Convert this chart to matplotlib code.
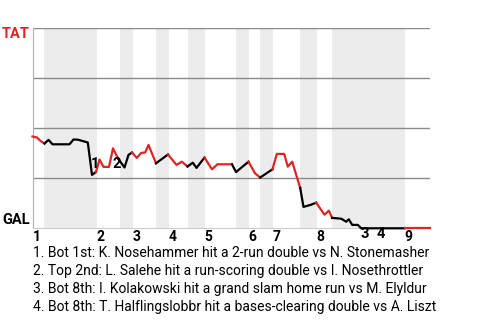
import matplotlib
matplotlib.use('Agg')
import matplotlib.pyplot as plt

plt.rcParams['font.family'] = ['Roboto', 'DejaVu Sans']

# position of each play along the game and TAT win probability after it
progress = [0, 4.5, 8, 12, 16, 20, 37, 41, 45.5, 55.3, 59.5, 63.5, 67, 71, 76.5, 80.5,
            85.5, 92, 96, 99.5, 104.3, 108.7, 112.7, 116, 123.5, 135.5, 144, 149.3, 155,
            160.3, 164, 172, 179.5, 185, 199.5, 203.5, 216, 222.5, 227.7, 240, 244.3,
            251.7, 255.3, 259.7, 267.7, 271, 278, 283.7, 292, 296.3, 299.7, 308.7, 313.7,
            316.3, 319.7, 325.3, 328.7, 344, 372, 397]
win_prob = [0.459, 0.454, 0.437, 0.424, 0.442, 0.420, 0.420, 0.444, 0.443, 0.429, 0.267,
            0.282, 0.344, 0.307, 0.307, 0.400, 0.349, 0.304, 0.367, 0.379, 0.352, 0.377,
            0.379, 0.417, 0.325, 0.369, 0.317, 0.333, 0.309, 0.328, 0.302, 0.354, 0.295,
            0.320, 0.320, 0.281, 0.333, 0.275, 0.254, 0.295, 0.372, 0.372, 0.308, 0.333,
            0.202, 0.107, 0.117, 0.128, 0.068, 0.088, 0.052, 0.048, 0.033, 0.045, 0.017,
            0.017, 0.0, 0.0, 0.0, 0.0]

# index of the last play of each half inning (top 1st, bot 1st, ...)
half_ends = [0, 3, 11, 16, 19, 24, 25, 28, 31, 34, 36, 38, 39, 44, 47, 50, 58, 59]

# shaded bottom halves
bottom_halves = [(11, 64), (87, 100), (123, 136), (155, 172), (203, 216),
                 (227, 240), (267, 284), (299, 372)]
inning_starts = [0, 64, 100, 136, 172, 216, 240, 284, 372]
inning_labels = ['1', '2', '3', '4', '5', '6', '7', '8', '9']

event_labels = ['1', '2', '3', '4']
event_x = [63, 84.5, 332.5, 348]
event_y = [0.324, 0.324, -0.026, -0.026]

notes = [
    '1. Bot 1st: K. Nosehammer hit a 2-run double vs N. Stonemasher',
    '2. Top 2nd: L. Salehe hit a run-scoring double vs I. Nosethrottler',
    '3. Bot 8th: I. Kolakowski hit a grand slam home run vs M. Elyldur',
    '4. Bot 8th: T. Halflingslobbr hit a bases-clearing double vs A. Liszt',
]

red = '#dc2626'

fig = plt.figure(figsize=(4.8, 3.2), dpi=100)
ax = fig.add_axes([32.5 / 480, 1 - 228.3 / 320, 397 / 480, 200 / 320])

for x0, x1 in bottom_halves:
    ax.axvspan(x0, x1, color='#ececec', lw=0, zorder=0)

for y in [0.25, 0.5, 0.75, 1.0]:
    ax.axhline(y, color='#8a8a8a', lw=1.0, zorder=1)

# one line per half inning, red when TAT bats, black when GAL bats
for i in range(len(half_ends) - 1):
    a, b = half_ends[i], half_ends[i + 1]
    col = red if i % 2 == 0 else 'black'
    ax.plot(progress[a:b + 1], win_prob[a:b + 1], color=col, lw=1.6, zorder=3,
            clip_on=False)

for lab, x, y in zip(event_labels, event_x, event_y):
    ax.text(x, y, lab, ha='center', va='center', fontsize=10.5, fontweight='bold',
            zorder=4, clip_on=False)

for lab, x in zip(inning_labels, inning_starts):
    ax.text(x, -0.0435, lab, ha='left', va='center', fontsize=10, fontweight='bold',
            clip_on=False)

ax.text(-2.5, 0.97, 'TAT', ha='right', va='center', fontsize=10.5, fontweight='bold',
        color=red, clip_on=False)
ax.text(-2.5, 0.0415, 'GAL', ha='right', va='center', fontsize=10.5, fontweight='bold',
        color='black', clip_on=False)

ax.set_xlim(0, 397)
ax.set_ylim(0, 1)
ax.set_xticks([])
ax.set_yticks([])
for s in ['top', 'right']:
    ax.spines[s].set_visible(False)
ax.spines['left'].set_color('#b0b0b0')
ax.spines['bottom'].set_color('#cccccc')

for i, note in enumerate(notes):
    fig.text(33 / 480, 1 - (253 + 18 * i) / 320, note, ha='left', va='center',
             fontsize=10)

fig.savefig('out.png', dpi=100)
